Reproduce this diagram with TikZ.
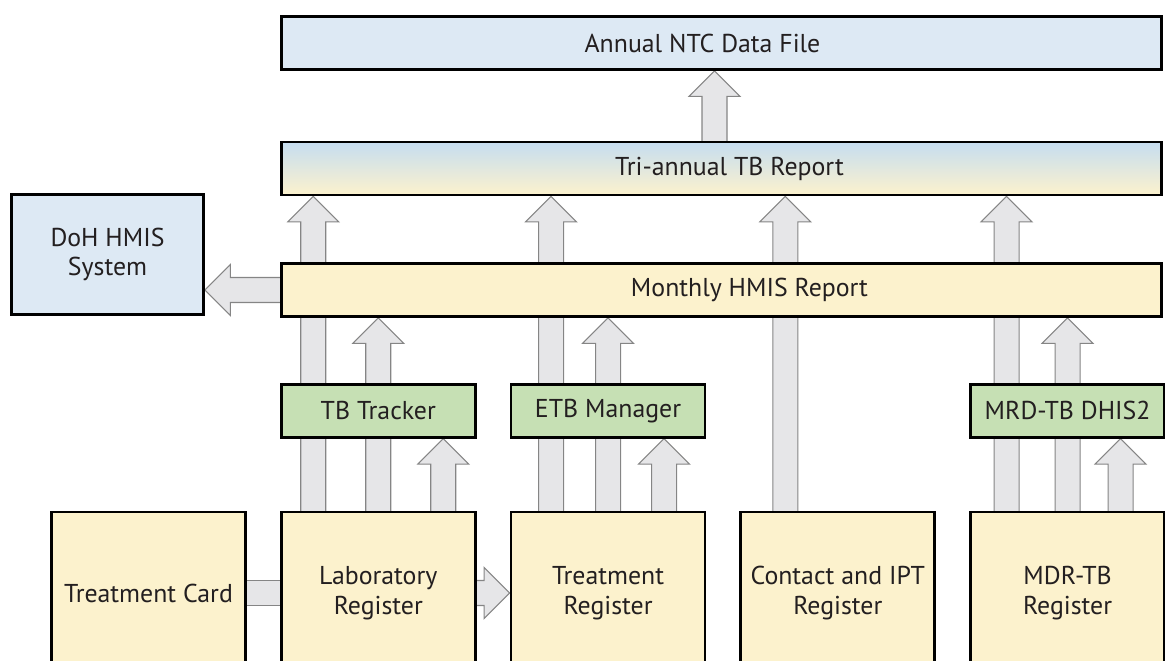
\documentclass[tikz,border=0pt]{standalone}
\usepackage{fontspec}
\setmainfont{PT Sans}
\usetikzlibrary{positioning}
\usetikzlibrary{calc}
\usetikzlibrary{backgrounds}
\definecolor{boxyellow}{HTML}{FCF2CD}
\definecolor{boxblue}{HTML}{DDE9F4}
\definecolor{triblue}{HTML}{C6DDF0}
\definecolor{boxgreen}{HTML}{C6E0B4}
\definecolor{arrgray}{HTML}{E6E6E8}
\definecolor{arredge}{HTML}{858585}
\definecolor{ink}{HTML}{231F20}
% sizes of the fat arrows
\def\shaftw{0.25cm}
\def\headw{0.51cm}
\def\headl{0.51cm}
\tikzset{
  fat arr/.style = {
    fill = arrgray,
    draw = arredge,
    line width = 0.6pt
  }
}
\tikzset {
  data node/.style = {
    draw = black,
    line width = 1.6pt,
    inner sep = 0,
    align = center,
    text = ink,
    font = \fontsize{14.7}{16.8}\selectfont
  },
  % wide report bars
  report/.style = {
    data node,
    fill = boxyellow,
    minimum width = 17.6cm,
    minimum height = 1.06cm
  },
  % national system
  system/.style = {
    data node,
    fill = boxblue,
    minimum width = 3.84cm,
    minimum height = 2.4cm
  },
  % paper registers
  register/.style = {
    data node,
    fill = boxyellow,
    minimum width = 3.88cm,
    minimum height = 3.24cm
  },
  % electronic tools
  tool/.style = {
    data node,
    fill = boxgreen,
    minimum width = 3.88cm,
    minimum height = 1.06cm
  },
  node distance = 0.66cm
}
% fat arrow straight up from #1 to the height of #2
\newcommand{\fatup}[2]{%
  \draw[fat arr] let \p1 = (#1), \p2 = (#2) in
    (\x1-\shaftw,\y1) -- (\x1-\shaftw,\y2-\headl) -- (\x1-\headw,\y2-\headl)
    -- (\x1,\y2) -- (\x1+\headw,\y2-\headl) -- (\x1+\shaftw,\y2-\headl)
    -- (\x1+\shaftw,\y1);
}
% fat arrow to the left
\newcommand{\fatleft}[2]{%
  \draw[fat arr] let \p1 = (#1), \p2 = (#2) in
    (\x1,\y1+\shaftw) -- (\x2+\headl,\y1+\shaftw) -- (\x2+\headl,\y1+\headw)
    -- (\x2,\y1) -- (\x2+\headl,\y1-\headw) -- (\x2+\headl,\y1-\shaftw)
    -- (\x1,\y1-\shaftw);
}
% fat arrow to the right
\newcommand{\fatright}[2]{%
  \draw[fat arr] let \p1 = (#1), \p2 = (#2) in
    (\x1,\y1+\shaftw) -- (\x2-\headl,\y1+\shaftw) -- (\x2-\headl,\y1+\headw)
    -- (\x2,\y1) -- (\x2-\headl,\y1-\headw) -- (\x2-\headl,\y1-\shaftw)
    -- (\x1,\y1-\shaftw);
}
\begin{document}
\begin{tikzpicture}[x=0.02cm, y=-0.02cm]
  \useasboundingbox (0,0) rectangle (1165,661);

  \node[report, fill=boxblue] (annual) at (721.5,43) {\hspace*{-0.76cm}Annual NTC Data File};
  \node[report, top color=triblue, middle color=boxyellow, bottom color=boxyellow]
    (tri) at (721.5,168.5) {\hspace*{0.32cm}Tri-annual TB Report};
  \node[report] (monthly) at (721.5,290) {\hspace*{1.12cm}Monthly HMIS Report};
  \node[system] (doh) at (107.5,254.5) {DoH HMIS\\System};

  \node[register] (card) at (148.5,593) {Treatment Card};
  \node[register] (lab) [right=of card] {Laboratory\\Register};
  \node[register] (treg) [right=of lab] {Treatment\\Register};
  \node[register] (contact) [right=of treg] {Contact and IPT\\Register};
  \node[register] (mdr) [right=of contact] {MDR-TB\\Register};

  \node[tool] (tbt) [above=1.44cm of lab] {TB Tracker};
  \node[tool] (etb) [above=1.44cm of treg] {ETB Manager};
  \node[tool] (mrd) [above=1.44cm of mdr] {MRD-TB DHIS2};

  \begin{scope}[on background layer]
    \foreach \reg/\tool/\dl/\dr in {lab/tbt/-65/65, treg/etb/-57/56, mdr/mrd/-61/53} {
      \fatup{$(\reg.center)+(\dl,0)$}{tri.south}
      \fatup{\reg.center}{monthly.south}
      \fatup{$(\reg.center)+(\dr,0)$}{\tool.south}
    }
    \fatup{$(contact.center)+(-52.5,0)$}{tri.south}
    \fatup{$(tri.center)+(-7,0)$}{annual.south}
    \fatleft{monthly.west}{doh.east}
    \fatright{lab.east}{treg.west}
    \draw[fat arr] let \p1 = (card.center), \p2 = (lab.center) in
      (\x1,\y1-\shaftw) rectangle (\x2,\y1+\shaftw);
  \end{scope}
\end{tikzpicture}
\end{document}
